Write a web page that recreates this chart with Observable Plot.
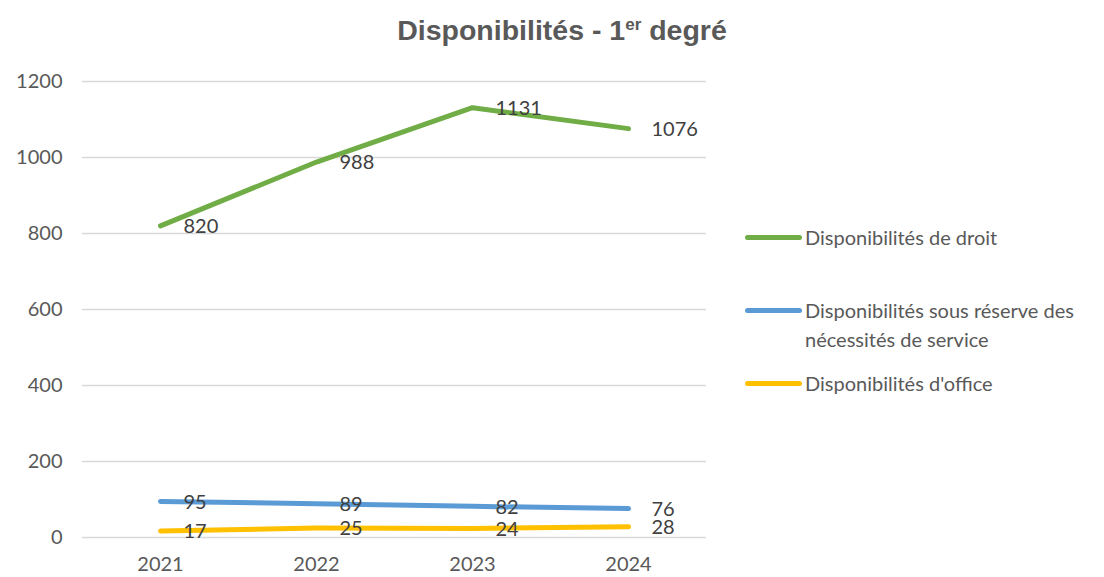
<!DOCTYPE html>
<html>
<head>
<meta charset="utf-8">
<script src="https://cdn.jsdelivr.net/npm/d3@7"></script>
<script src="https://cdn.jsdelivr.net/npm/@observablehq/plot@0.6"></script>
<style>
  html, body { margin: 0; padding: 0; background: #fff; }
  #wrap { position: relative; width: 1104px; height: 577px; overflow: hidden; font-family: Lato, "Open Sans", sans-serif; }
  #title { position: absolute; left: 0; top: 13px; width: 1124px; text-align: center; font-family: "Liberation Sans", Arial, sans-serif; font-weight: 700; font-size: 28.5px; color: #595959; line-height: 34px; }
  #title sup { font-size: 17px; vertical-align: 0; position: relative; top: -10px; }
  #chart { position: absolute; left: 0; top: 55px; }
  .leg { position: absolute; left: 745px; font-size: 20px; color: #595959; line-height: 29px; }
  .leg .sw { position: absolute; left: 0; top: 12px; width: 57px; height: 5px; border-radius: 3px; }
  .leg .tx { position: absolute; left: 60px; top: 0; width: 300px; white-space: normal; }
</style>
</head>
<body>
<div id="wrap">
  <div id="title">Disponibilités - 1<sup>er</sup> degré</div>
  <div id="chart"></div>
  <div id="legend"></div>
</div>
<script>
const years = ["2021", "2022", "2023", "2024"];
const seriesNames = [
  "Disponibilités de droit",
  "Disponibilités sous réserve des nécessités de service",
  "Disponibilités d'office"
];
const droit = [820, 988, 1131, 1076];
const sousReserve = [95, 89, 82, 76];
const office = [17, 25, 24, 28];
const seriesColors = ["#70AD47", "#5B9BD5", "#FFC000"];
const yTicks = [0, 200, 400, 600, 800, 1000, 1200];

const seriesValues = [droit, sousReserve, office];
const rows = [];
seriesNames.forEach((name, i) => {
  years.forEach((yr, j) => rows.push({ series: name, year: yr, value: seriesValues[i][j] }));
});

const chart = Plot.plot({
  width: 720,
  height: 522,
  marginLeft: 82,
  marginRight: 14,
  marginTop: 26,
  marginBottom: 40,
  style: { fontFamily: "Lato, 'Open Sans', sans-serif", fontSize: "20px", color: "#595959", background: "transparent" },
  x: { type: "point", domain: years, padding: 0.5, label: null },
  y: { domain: [0, 1200], ticks: yTicks, label: null },
  color: { domain: seriesNames, range: seriesColors },
  marks: [
    Plot.ruleY(yTicks, { stroke: "#d9d9d9", strokeWidth: 1.3 }),
    Plot.axisY({ ticks: yTicks, tickFormat: d => String(d), tickSize: 0, tickPadding: 20, fontSize: 20, fill: "#595959", label: null }),
    Plot.axisX({ tickSize: 0, tickPadding: 19, fontSize: 20, fill: "#595959", label: null }),
    Plot.line(rows, { x: "year", y: "value", z: "series", stroke: "series", strokeWidth: 5, strokeLinecap: "round", strokeLinejoin: "round" }),
    Plot.text(rows, { x: "year", y: "value", text: d => String(d.value), textAnchor: "start", dx: 23, dy: 1, fontSize: 20, fill: "#404040" })
  ]
});
document.getElementById("chart").appendChild(chart);

const legendTops = [223, 296, 369];
const legend = document.getElementById("legend");
seriesNames.forEach((name, i) => {
  const item = document.createElement("div");
  item.className = "leg";
  item.style.top = legendTops[i] + "px";
  const sw = document.createElement("div");
  sw.className = "sw";
  sw.style.background = seriesColors[i];
  const tx = document.createElement("div");
  tx.className = "tx";
  tx.textContent = name;
  item.appendChild(sw);
  item.appendChild(tx);
  legend.appendChild(item);
});
</script>
</body>
</html>
